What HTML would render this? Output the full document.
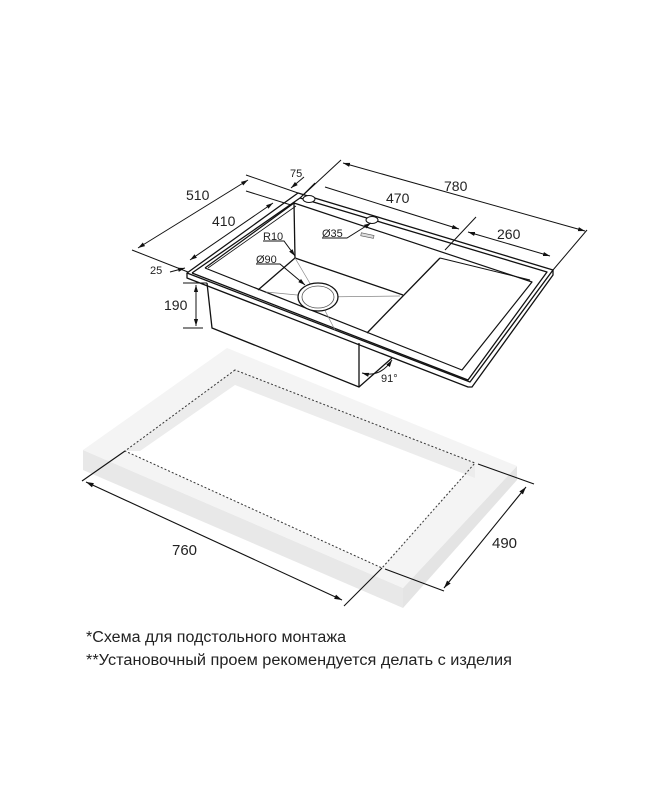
<!DOCTYPE html>
<html><head><meta charset="utf-8"><style>
html,body{margin:0;padding:0;background:#fff;}
svg{display:block;}
text{font-family:"Liberation Sans","DejaVu Sans",sans-serif;fill:#222;}
</style></head><body>
<svg width="667" height="800" viewBox="0 0 667 800" xmlns="http://www.w3.org/2000/svg">
<defs>
<marker id="a" viewBox="0 0 10 10" refX="10" refY="5" markerWidth="7" markerHeight="7" orient="auto-start-reverse"><path d="M0,2 L10,5 L0,8 z" fill="#111"/></marker>
</defs>
<!-- countertop -->
<polygon points="83,450 403,588 403,608 83,470" fill="#e8e8e8"/>
<polygon points="403,588 517,466 517,480 403,608" fill="#e4e4e4"/>
<polygon points="227,348 83,450 403,588 517,466" fill="#f4f4f4"/>
<polygon points="235,370 125,451 382,568 475,463" fill="#fff"/>
<polygon points="235,370 125,451 140,451 235,385 475,478 475,463" fill="#ececec"/>
<polygon points="235,370 125,451 382,568 475,463" fill="none" stroke="#333" stroke-width="1" stroke-dasharray="2,2"/>
<!-- 760 / 490 dims -->
<g stroke="#111" stroke-width="1.1" fill="none">
<line x1="125" y1="451" x2="82" y2="481"/>
<line x1="382" y1="568" x2="344" y2="606"/>
<line x1="86" y1="482" x2="342" y2="600" marker-start="url(#a)" marker-end="url(#a)"/>
<line x1="478" y1="464" x2="534" y2="484"/>
<line x1="385" y1="569" x2="444" y2="591"/>
<line x1="526" y1="487" x2="444" y2="588" marker-start="url(#a)" marker-end="url(#a)"/>
</g>
<text x="172" y="555" font-size="15">760</text>
<text x="492" y="548" font-size="15">490</text>
<!-- sink -->
<g stroke="#111" stroke-width="1.3" fill="none" stroke-linejoin="round">
<polyline points="207,283 212,328 359,387 359,343"/>
<line x1="359" y1="387" x2="392" y2="358"/>
<polygon points="187,273 298,193 553,270 470,382" fill="#fff"/>
<polyline points="187,273 187,278 468,387 472,387 553,275 553,270"/>
<polyline points="192,273 300,198 547,272 468,380 192,273"/>
<polyline points="205,268 294,203 532,282 462,370 205,268" stroke-width="1.2"/>
<polyline points="208,268 296,206" stroke-width="0.8"/>
<line x1="294" y1="203" x2="295" y2="258"/>
<polyline points="258,290 295,258 403,295"/>
<line x1="440" y1="258" x2="367" y2="333"/>
<line x1="440" y1="258" x2="530" y2="280" stroke-width="1"/>
</g>
<g stroke="#888" stroke-width="0.7">
<line x1="295" y1="258" x2="318" y2="297"/>
<line x1="266" y1="292" x2="318" y2="297"/>
<line x1="400" y1="296" x2="318" y2="297"/>
<line x1="318" y1="297" x2="335" y2="330"/>
</g>
<ellipse cx="318" cy="297" rx="20" ry="14" fill="#fff" stroke="#111" stroke-width="1.3"/>
<ellipse cx="318" cy="297" rx="16" ry="11" fill="none" stroke="#555" stroke-width="0.8"/>
<ellipse cx="309" cy="199" rx="6" ry="3.5" fill="#fff" stroke="#111"/>
<ellipse cx="372" cy="220" rx="6" ry="3.5" fill="#fff" stroke="#111"/>
<rect x="361" y="234" width="13" height="3" fill="#ddd" stroke="#555" stroke-width="0.6" transform="rotate(12 367 235)"/>
<!-- sink dims -->
<g stroke="#111" stroke-width="1" fill="none">
<line x1="300" y1="198" x2="341" y2="160"/>
<line x1="553" y1="270" x2="587" y2="230"/>
<line x1="343" y1="163" x2="585" y2="231" marker-start="url(#a)" marker-end="url(#a)"/>
<line x1="325" y1="187" x2="459" y2="229" marker-end="url(#a)"/>
<line x1="445" y1="250" x2="476" y2="217"/>
<line x1="468" y1="232" x2="550" y2="256" marker-start="url(#a)" marker-end="url(#a)"/>
<line x1="132" y1="250" x2="188" y2="272"/>
<line x1="246" y1="175" x2="298" y2="193"/>
<line x1="138" y1="248" x2="248" y2="180" marker-start="url(#a)" marker-end="url(#a)"/>
<line x1="246" y1="191" x2="291" y2="205"/>
<line x1="190" y1="260" x2="273" y2="203" marker-start="url(#a)" marker-end="url(#a)"/>
<line x1="304" y1="177" x2="291" y2="188" marker-end="url(#a)"/>
<line x1="300" y1="198" x2="315" y2="183"/>
<line x1="170" y1="272" x2="185" y2="268" marker-end="url(#a)"/>
<line x1="183" y1="283" x2="207" y2="283"/>
<line x1="183" y1="328" x2="203" y2="328"/>
<line x1="196" y1="285" x2="196" y2="326" marker-start="url(#a)" marker-end="url(#a)"/>
<polyline points="263,241 284,241 295,256" marker-end="url(#a)"/>
<polyline points="256,264 280,264 305,285" marker-end="url(#a)"/>
<polyline points="322,238 347,238 371,223" marker-end="url(#a)"/>
<path d="M362,373 Q380,378 392,360" marker-start="url(#a)" marker-end="url(#a)"/>
</g>
<g font-size="14">
<text x="444" y="191">780</text>
<text x="386" y="203">470</text>
<text x="497" y="239">260</text>
<text x="186" y="200">510</text>
<text x="212" y="226">410</text>
<text x="290" y="177" font-size="11">75</text>
<text x="150" y="274" font-size="11">25</text>
<text x="164" y="310">190</text>
<text x="263" y="240" font-size="11">R10</text>
<text x="256" y="263" font-size="11">Ø90</text>
<text x="322" y="237" font-size="11">Ø35</text>
<text x="381" y="382" font-size="11">91°</text>
</g>
<text x="86" y="642" font-size="15.5" textLength="260" lengthAdjust="spacingAndGlyphs">*Схема для подстольного монтажа</text>
<text x="86" y="665" font-size="15.5" textLength="426" lengthAdjust="spacingAndGlyphs">**Установочный проем рекомендуется делать с изделия</text>
</svg>
</body></html>
